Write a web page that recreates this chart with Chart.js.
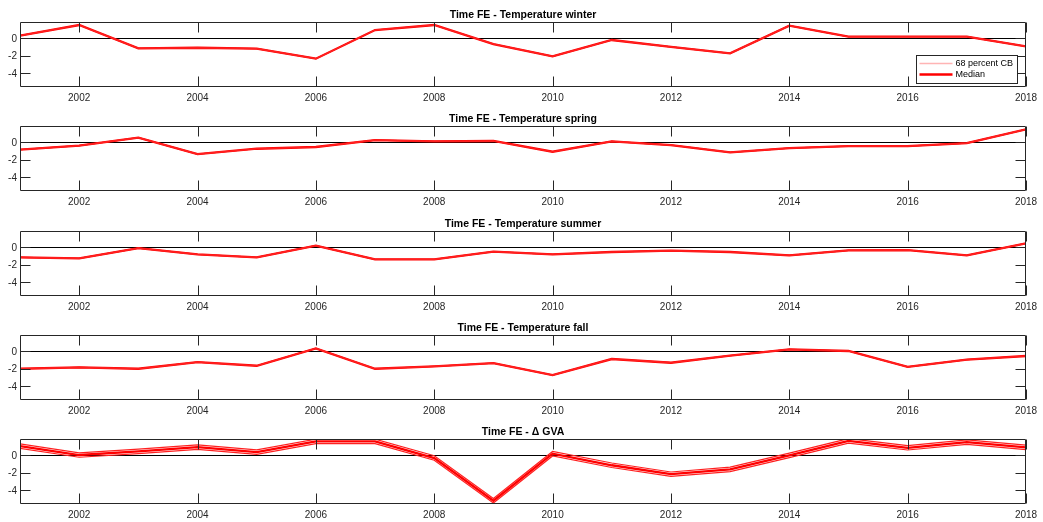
<!DOCTYPE html>
<html>
<head>
<meta charset="utf-8">
<script src="https://cdn.jsdelivr.net/npm/chart.js@4.4.1/dist/chart.umd.min.js"></script>
<style>
  html, body { margin: 0; padding: 0; background: #fff; }
  #wrap { position: relative; width: 1043px; height: 522px; }
  .panel { position: absolute; left: 0; width: 1043px; height: 105px; }
</style>
</head>
<body>
<div id="wrap"></div>
<script>
// x axis: years and tick labels
const years = [2001, 2002, 2003, 2004, 2005, 2006, 2007, 2008, 2009, 2010, 2011, 2012, 2013, 2014, 2015, 2016, 2017, 2018];
const xTicks = [2002, 2004, 2006, 2008, 2010, 2012, 2014, 2016, 2018];
const yTicks = [-4, -2, 0];

// medians of the time fixed effects
const winter = [0.31, 1.55, -1.16, -1.09, -1.2, -2.36, 0.97, 1.55, -0.66, -2.09, -0.19, -1.0, -1.74, 1.47, 0.19, 0.19, 0.19, -0.93];
const spring = [-0.85, -0.39, 0.54, -1.36, -0.74, -0.54, 0.27, 0.12, 0.16, -1.09, 0.12, -0.31, -1.17, -0.66, -0.43, -0.43, -0.08, 1.51];
const summer = [-1.17, -1.28, -0.08, -0.82, -1.17, 0.19, -1.4, -1.4, -0.5, -0.82, -0.54, -0.39, -0.54, -0.93, -0.35, -0.31, -0.93, 0.47];
const fall = [-2.02, -1.86, -2.02, -1.24, -1.67, 0.35, -2.02, -1.75, -1.36, -2.76, -0.89, -1.32, -0.5, 0.23, 0.04, -1.79, -0.97, -0.54];
const gvaMedian = [1.08, 0.04, 0.46, 0.96, 0.38, 1.62, 1.62, -0.31, -5.27, 0.19, -1.15, -2.19, -1.62, 0.0, 1.69, 0.88, 1.54, 0.92];
// 68 percent bands (temperature bands are too narrow to see apart from the median)
const gvaUpper = [1.34, 0.3, 0.72, 1.22, 0.64, 1.88, 1.88, -0.05, -5.01, 0.45, -0.89, -1.93, -1.36, 0.26, 1.95, 1.14, 1.8, 1.18];
const gvaLower = [0.82, -0.22, 0.2, 0.7, 0.12, 1.36, 1.36, -0.57, -5.53, -0.07, -1.41, -2.45, -1.88, -0.26, 1.43, 0.62, 1.28, 0.66];

const panels = [
  { title: 'Time FE - Temperature winter', median: winter, upper: winter, lower: winter, legend: true },
  { title: 'Time FE - Temperature spring', median: spring, upper: spring, lower: spring },
  { title: 'Time FE - Temperature summer', median: summer, upper: summer, lower: summer },
  { title: 'Time FE - Temperature fall', median: fall, upper: fall, lower: fall },
  { title: 'Time FE - \u0394 GVA', median: gvaMedian, upper: gvaUpper, lower: gvaLower }
];
const panelTops = [0, 104, 209, 313, 417];

const FONT = "'Liberation Sans', Arial, sans-serif";
const AXIS = '#262626';

function pts(vals) {
  return years.map((yr, i) => ({ x: yr, y: vals[i] }));
}

// matlab style box, inward ticks, y labels, zero line and legend
const framePlugin = {
  id: 'frame',
  beforeDatasetsDraw(chart) {
    const { ctx, chartArea: a, scales } = chart;
    const y0 = Math.round(scales.y.getPixelForValue(0)) + 0.5;
    ctx.save();
    ctx.strokeStyle = '#000';
    ctx.lineWidth = 1;
    ctx.beginPath();
    ctx.moveTo(a.left, y0);
    ctx.lineTo(a.right, y0);
    ctx.stroke();
    ctx.restore();
  },
  afterDatasetsDraw(chart, args, opts) {
    const { ctx, chartArea: a, scales } = chart;
    const L = Math.round(a.left) + 0.5, R = Math.round(a.right) - 0.5;
    const T = Math.round(a.top) + 0.5, B = Math.round(a.bottom) - 0.5;
    ctx.save();
    ctx.strokeStyle = AXIS;
    ctx.lineWidth = 1;
    ctx.beginPath();
    ctx.rect(L, T, R - L, B - T);
    xTicks.forEach(v => {
      const x = Math.round(scales.x.getPixelForValue(v)) + 0.5;
      ctx.moveTo(x, B); ctx.lineTo(x, B - 10);
      ctx.moveTo(x, T); ctx.lineTo(x, T + 10);
    });
    yTicks.forEach(v => {
      const y = Math.round(scales.y.getPixelForValue(v)) + 0.5;
      ctx.moveTo(L, y); ctx.lineTo(L + 10, y);
      ctx.moveTo(R, y); ctx.lineTo(R - 10, y);
    });
    ctx.stroke();

    // y tick labels
    ctx.fillStyle = AXIS;
    ctx.font = '10px ' + FONT;
    ctx.textAlign = 'right';
    ctx.textBaseline = 'middle';
    yTicks.forEach(v => {
      ctx.fillText(String(v), a.left - 3, scales.y.getPixelForValue(v) + 1);
    });

    if (opts.legend) {
      const w = 101, h = 28;
      const lx = Math.round(a.right - 110) + 0.5, ly = Math.round(a.top + 33) + 0.5;
      ctx.fillStyle = '#fff';
      ctx.fillRect(lx, ly, w, h);
      ctx.strokeStyle = AXIS;
      ctx.lineWidth = 1;
      ctx.strokeRect(lx, ly, w, h);
      const items = [
        { label: '68 percent CB', color: '#ffb4b4', width: 1.5 },
        { label: 'Median', color: '#ff0000', width: 2.5 }
      ];
      ctx.font = '9px ' + FONT;
      ctx.textAlign = 'left';
      items.forEach((it, i) => {
        const yy = ly + 8 + i * 11;
        ctx.strokeStyle = it.color;
        ctx.lineWidth = it.width;
        ctx.beginPath();
        ctx.moveTo(lx + 3, yy);
        ctx.lineTo(lx + 36, yy);
        ctx.stroke();
        ctx.fillStyle = '#000';
        ctx.fillText(it.label, lx + 39, yy);
      });
    }
    ctx.restore();
  }
};

const wrap = document.getElementById('wrap');
panels.forEach((p, i) => {
  const div = document.createElement('div');
  div.className = 'panel';
  div.style.top = panelTops[i] + 'px';
  const canvas = document.createElement('canvas');
  canvas.width = 1043;
  canvas.height = 105;
  div.appendChild(canvas);
  wrap.appendChild(div);

  new Chart(canvas.getContext('2d'), {
    type: 'line',
    data: {
      datasets: [
        { label: '68 percent CB', data: pts(p.upper), borderColor: '#ff2020', borderWidth: 1.2, pointRadius: 0, tension: 0 },
        { label: '68 percent CB', data: pts(p.lower), borderColor: '#ff2020', borderWidth: 1.2, pointRadius: 0, tension: 0 },
        { label: 'Median', data: pts(p.median), borderColor: '#ff0000', borderWidth: 2.3, pointRadius: 0, tension: 0 }
      ]
    },
    options: {
      responsive: false,
      animation: false,
      devicePixelRatio: 1,
      layout: { padding: { left: 20, right: 17, top: 0, bottom: 0 } },
      plugins: {
        legend: { display: false },
        tooltip: { enabled: false },
        title: {
          display: true,
          text: p.title,
          color: '#000',
          font: { family: FONT, size: 10.5, weight: 'bold' },
          padding: { top: 8.4, bottom: 1 }
        },
        frame: { legend: !!p.legend }
      },
      scales: {
        x: {
          type: 'linear',
          min: 2001,
          max: 2018,
          grid: { display: false, drawTicks: false },
          border: { display: false },
          afterBuildTicks: axis => { axis.ticks = xTicks.map(v => ({ value: v })); },
          afterFit: axis => { axis.height = 18; },
          ticks: {
            color: AXIS,
            padding: 5,
            maxRotation: 0,
            autoSkip: false,
            font: { family: FONT, size: 10 },
            callback: v => String(v)
          }
        },
        y: {
          min: -5.65,
          max: 1.9,
          grid: { display: false, drawTicks: false },
          border: { display: false },
          afterBuildTicks: axis => { axis.ticks = yTicks.map(v => ({ value: v })); },
          afterFit: axis => { axis.width = 0; },
          ticks: { display: false }
        }
      }
    },
    plugins: [framePlugin]
  });
});
</script>
</body>
</html>
